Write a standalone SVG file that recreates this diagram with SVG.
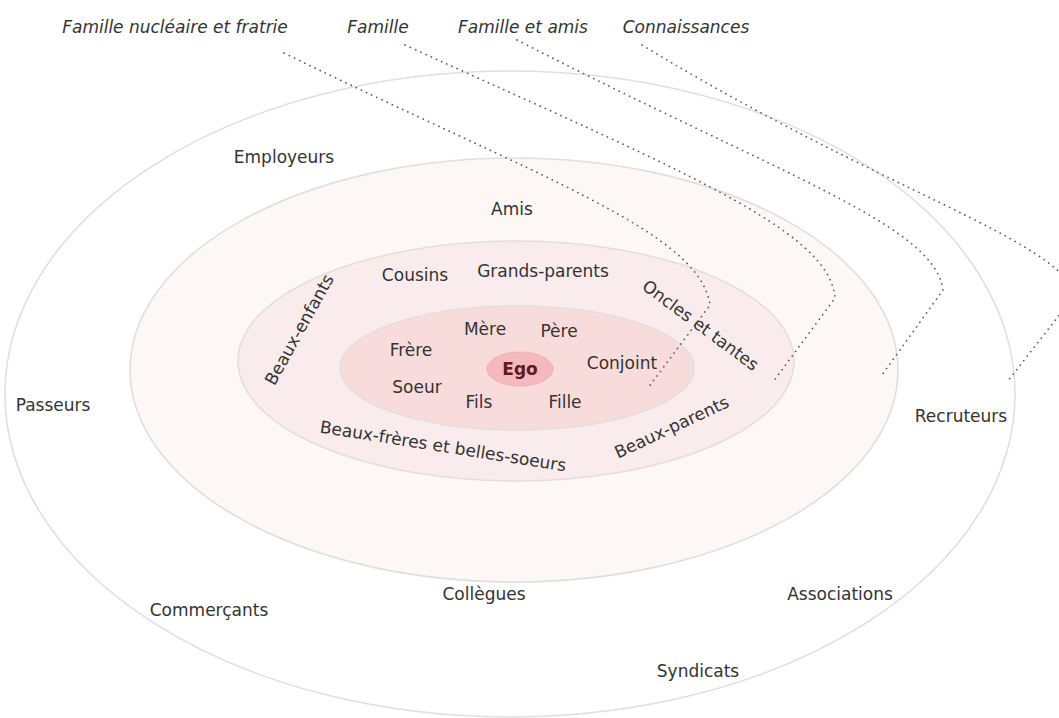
<svg xmlns="http://www.w3.org/2000/svg" width="1059" height="718" viewBox="0 0 1059 718">
<style>
.t{font-family:"DejaVu Sans",Verdana,sans-serif;font-size:17px;fill:#333;text-anchor:middle}
.i{font-style:italic}
.ring{stroke:#e2dede;stroke-width:1.6}
.dot{fill:none;stroke:#5a5a5a;stroke-width:1.7;stroke-dasharray:0.1 5.6;stroke-linecap:round}
</style>
<rect width="1059" height="718" fill="#fff"/>
<g id="ring-connaissances"><ellipse class="ring" cx="510" cy="394" rx="505" ry="323" fill="#fff"/></g>
<g id="ring-amis"><ellipse class="ring" cx="514" cy="370" rx="384" ry="212" fill="#fdf8f6"/></g>
<g id="ring-famille"><ellipse class="ring" cx="516" cy="361" rx="278" ry="120" fill="#faeced"/></g>
<g id="ring-nucleaire"><ellipse class="ring" cx="517" cy="368" rx="177" ry="62" fill="#f8dcdb"/></g>
<g id="ego"><ellipse cx="520" cy="369" rx="33" ry="17" fill="#f4b9bc" stroke="#eeb0b3" stroke-width="1"/>
<text class="t" x="520" y="375" style="font-weight:bold;fill:#5e1a20">Ego</text></g>
<g id="connectors">
<path class="dot" d="M284,53 C540,178 700,232 710,305 L648,388"/>
<path class="dot" d="M405,45 C680,170 830,230 835,298 L773,382"/>
<path class="dot" d="M517,40 C780,175 935,225 943,290 L882,375"/>
<path class="dot" d="M642,45 C880,190 1060,240 1075,295 L1007,382"/>
</g>
<g id="labels-top">
<text class="t i" x="175" y="33">Famille nucléaire et fratrie</text>
<text class="t i" x="378" y="33">Famille</text>
<text class="t i" x="523" y="33">Famille et amis</text>
<text class="t i" x="686" y="33">Connaissances</text>
</g>
<g id="labels-connaissances">
<text class="t" x="284" y="163">Employeurs</text>
<text class="t" x="53" y="411">Passeurs</text>
<text class="t" x="961" y="422">Recruteurs</text>
<text class="t" x="484" y="600">Collègues</text>
<text class="t" x="840" y="600">Associations</text>
<text class="t" x="209" y="616">Commerçants</text>
<text class="t" x="698" y="677">Syndicats</text>
</g>
<g id="labels-amis"><text class="t" x="512" y="215">Amis</text></g>
<g id="labels-famille">
<text class="t" x="415" y="281">Cousins</text>
<text class="t" x="543" y="277">Grands-parents</text>
<text class="t" transform="translate(700,326) rotate(36.5)" x="0" y="5">Oncles et tantes</text>
<text class="t" transform="translate(300,330) rotate(-61)" x="0" y="5">Beaux-enfants</text>
<text class="t" transform="translate(443,447) rotate(9)" x="0" y="5">Beaux-frères et belles-soeurs</text>
<text class="t" transform="translate(672,428) rotate(-25)" x="0" y="5">Beaux-parents</text>
</g>
<g id="labels-nucleaire">
<text class="t" x="485" y="335">Mère</text>
<text class="t" x="559" y="337">Père</text>
<text class="t" x="411" y="356">Frère</text>
<text class="t" x="622" y="369">Conjoint</text>
<text class="t" x="417" y="393">Soeur</text>
<text class="t" x="479" y="408">Fils</text>
<text class="t" x="565" y="408">Fille</text>
</g>
</svg>
